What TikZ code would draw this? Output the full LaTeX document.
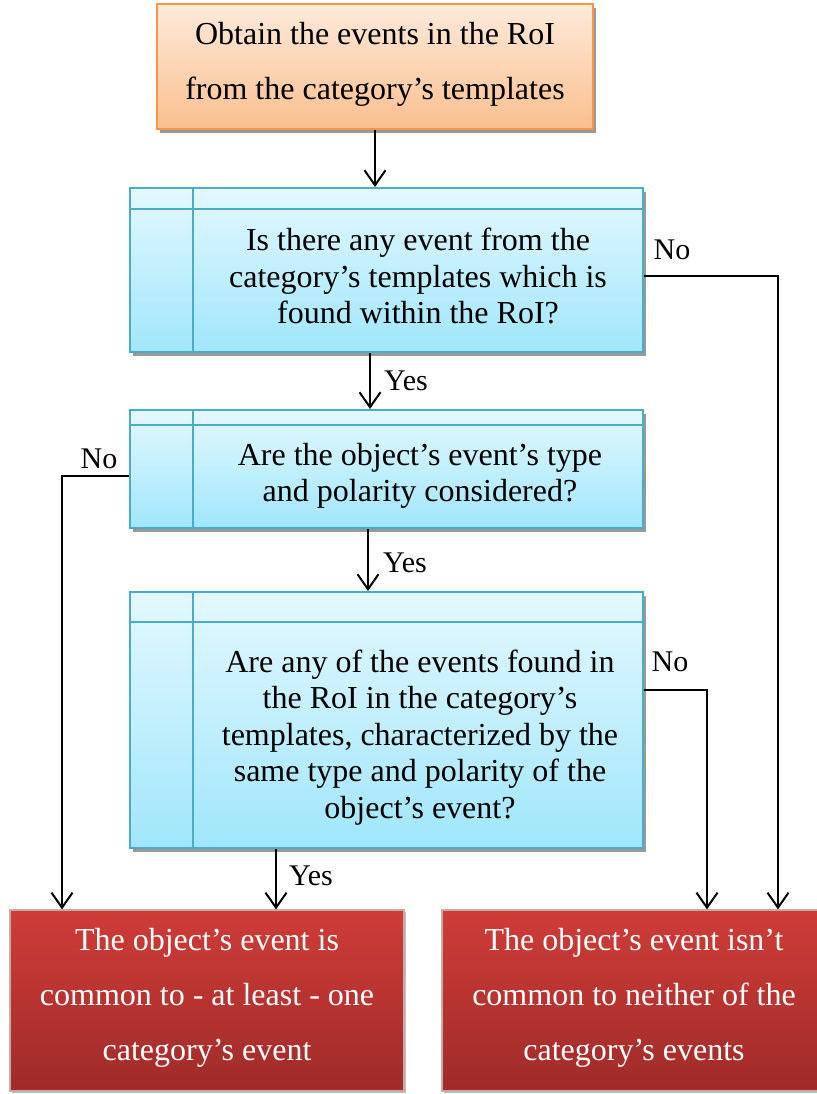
\documentclass[tikz,border=0pt]{standalone}
\usepackage{fontspec}
\setmainfont{Liberation Serif}
\usetikzlibrary{shadows,arrows.meta,calc}
\definecolor{orTop}{HTML}{FDEADA}
\definecolor{orBot}{HTML}{FABF8F}
\definecolor{orLine}{HTML}{F79646}
\definecolor{blTop}{HTML}{E4F8FE}
\definecolor{blBot}{HTML}{A0E6FB}
\definecolor{blLine}{HTML}{4BACC6}
\definecolor{rdTop}{HTML}{CF3C38}
\definecolor{rdBot}{HTML}{9F2B29}
\definecolor{rdLine}{HTML}{C9A9A9}
\begin{document}
\begin{tikzpicture}[x=1pt,y=-1pt,
  shade/.style={drop shadow={shadow xshift=3pt,shadow yshift=-4pt,fill=black!40,opacity=1}},
  orangebox/.style={draw=orLine,line width=2pt,top color=orTop,bottom color=orBot,shade,inner sep=0pt},
  bluebox/.style={draw=blLine,line width=2pt,top color=blTop,bottom color=blBot,shade,inner sep=0pt},
  redbox/.style={draw=rdLine,line width=1.2pt,top color=rdTop,bottom color=rdBot,drop shadow={shadow xshift=2pt,shadow yshift=-2pt,fill=black!25,opacity=1},inner sep=0pt},
  wide/.style={align=center,inner sep=0pt,font=\fontsize{32}{55}\selectfont},
  tight/.style={align=center,inner sep=0pt,font=\fontsize{32}{36.6}\selectfont},
  inner/.style={draw=blLine,line width=2pt},
  arr/.style={line width=2pt,-{Straight Barb[length=15pt,width=21pt,line width=2pt]}},
  lab/.style={inner sep=0pt,font=\fontsize{30}{34}\selectfont}
]
\useasboundingbox (0,0) rectangle (816,1094);

% boxes
\node[orangebox,minimum width=436pt,minimum height=125pt] (top) at (375,66.5) {};
\node[wide] (topt) at (375,64) {Obtain the events in the RoI\\from the category’s templates};

\node[bluebox,minimum width=513pt,minimum height=164pt] (b2) at (386.5,270) {};
\draw[inner] ($(b2.north west)+(0,22)$) -- ($(b2.north east)+(0,22)$);
\draw[inner] ($(b2.north west)+(64,0)$) -- ($(b2.south west)+(64,0)$);
\node[tight] (b2t) at (418,276) {Is there any event from the\\category’s templates which is\\found within the RoI?};

\node[bluebox,minimum width=513pt,minimum height=118pt] (b3) at (386.5,469) {};
\draw[inner] ($(b3.north west)+(0,16)$) -- ($(b3.north east)+(0,16)$);
\draw[inner] ($(b3.north west)+(64,0)$) -- ($(b3.south west)+(64,0)$);
\node[tight] (b3t) at (420,476) {Are the object’s event’s type\\and polarity considered?};

\node[bluebox,minimum width=513pt,minimum height=256pt] (b4) at (386.5,720) {};
\draw[inner] ($(b4.north west)+(0,31)$) -- ($(b4.north east)+(0,31)$);
\draw[inner] ($(b4.north west)+(64,0)$) -- ($(b4.south west)+(64,0)$);
\node[tight] (b4t) at (420,737.5) {Are any of the events found in\\the RoI in the category’s\\templates, characterized by the\\same type and polarity of the\\object’s event?};

\node[redbox,minimum width=394pt,minimum height=181pt] (rl) at (207,1000.5) {};
\node[wide,text=white] (rlt) at (207,997.5) {The object’s event is\\common to - at least - one\\category’s event};

\node[redbox,minimum width=384pt,minimum height=181pt] (rr) at (634,1000.5) {};
\node[wide,text=white] (rrt) at (634,997.5) {The object’s event isn’t\\common to neither of the\\category’s events};

% helper coordinates
\coordinate (xA) at (370,0);
\coordinate (xB) at (368,0);
\coordinate (xC) at (276,0);
\coordinate (xD) at (62,0);
\coordinate (xE) at (707,0);
\coordinate (xF) at (778,0);
\coordinate (yA) at (0,690);

% connectors
\draw[arr] (top.south) -- (top.south |- b2.north);
\draw[arr] (b2.south -| xA) -- (b3.north -| xA);
\draw[arr] (b3.south -| xB) -- (b4.north -| xB);
\draw[arr] (b4.south -| xC) -- (rl.north -| xC);
\draw[arr] (b2.east |- b2t) -| (rr.north -| xF);
\draw[arr] (b3.west |- b3t) -| (rl.north -| xD);
\draw[arr] (b4.east |- yA) -| (rr.north -| xE);

% labels
\node[lab] (l1) at (672,250) {No};
\node[lab] (l2) at (406,381) {Yes};
\node[lab] (l3) at (99,459) {No};
\node[lab] (l4) at (405,563) {Yes};
\node[lab] (l5) at (670,662) {No};
\node[lab] (l6) at (311,876) {Yes};
\end{tikzpicture}
\end{document}
